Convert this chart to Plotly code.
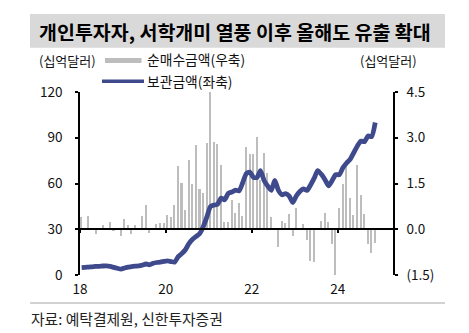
import plotly.graph_objects as go

# ---------------- data ----------------
months = [f"{2018 + i // 12}-{i % 12 + 1:02d}-15" for i in range(83)]

# 순매수금액 (right axis, 십억달러)
net_buy = [
    0.40, 0.02, 0.44, -0.02, -0.14, 0.03, 0.15, 0.02, 0.24, -0.03, 0.05, -0.23,
    0.32, 0.13, -0.14, 0.15, 0.03, 0.44, 0.81, -0.12, 0.05, 0.16, 0.20, 0.22,
    0.47, 0.41, 0.80, 2.09, 1.51, 0.63, 2.27, 1.50, 2.77, 1.32, 1.18, 2.83,
    4.53, 2.86, 2.79, 2.10, 0.25, 0.25, 0.97, 0.53, 0.86, 0.44, 2.70, 2.48,
    2.48, 3.02, 1.60, 2.50, 1.84, 0.39, 0.03, -0.58, 0.26, 0.20, 0.50, -0.22,
    0.69, -0.02, 0.17, -0.34, -1.05, -1.07, 0.02, 0.28, 0.53, 0.24, -0.49, -1.56,
    0.71, 1.48, 2.11, 1.02, 0.47, 2.11, 1.11, 0.49, -0.49, -0.77, -0.46,
]

# 보관금액 (left axis, 십억달러)
custody = [
    4.8, 5.0, 5.2, 5.4, 5.6, 5.7, 5.9, 6.0, 5.6, 5.0, 4.4, 3.9,
    4.6, 5.1, 5.5, 5.8, 6.0, 6.5, 7.2, 6.7, 7.7, 8.2, 8.4, 8.9,
    9.3, 8.8, 8.4, 12.0, 14.0, 16.6, 20.5, 23.4, 25.3, 27.2, 31.9, 38.2,
    45.0, 45.9, 46.4, 50.4, 49.3, 53.6, 54.4, 55.6, 55.2, 60.5, 66.5, 67.5,
    64.0, 64.0, 68.5, 62.0, 58.4, 55.5, 62.0, 55.5, 52.6, 53.4, 51.7, 47.5,
    52.0, 55.0, 56.5, 55.5, 59.0, 63.5, 68.5, 66.0, 62.5, 58.5, 62.0, 65.8,
    65.8, 70.5, 73.3, 75.8, 80.0, 84.5, 87.8, 87.4, 91.2, 90.7, 100.0,
]

x_tickvals = ["2018-01-01", "2020-01-01", "2022-01-01", "2024-01-01"]
x_ticktext = ["18", "20", "22", "24"]
left_ticks = [0, 30, 60, 90, 120]
right_ticks = [-1.5, 0.0, 1.5, 3.0, 4.5]
right_ticktext = ["(1.5)", "0.0", "1.5", "3.0", "4.5"]

title_text = "개인투자자, 서학개미 열풍 이후 올해도 유출 확대"
source_text = "자료: 예탁결제원, 신한투자증권"
unit_text = "(십억달러)"
bar_name = "순매수금액(우축)"
line_name = "보관금액(좌축)"

# ---------------- styling ----------------
W, H = 469, 333
L, R, T, B = 80, 393, 92, 275
FONT = "Noto Sans CJK KR"
BAR_COLOR = "#bdbdbd"
LINE_COLOR = "#3f4a8c"
x_range = ["2018-01-01", "2025-04-15"]


def px(x):
    return (x - L) / (R - L)


def py(y):
    return (B - y) / (B - T)


fig = go.Figure()
fig.add_trace(go.Bar(
    x=months, y=net_buy, xaxis="x", yaxis="y",
    marker=dict(color=BAR_COLOR, line=dict(width=0)),
    width=13 * 86400000, name=bar_name, showlegend=False,
))
fig.add_trace(go.Scatter(
    x=months, y=custody, xaxis="x2", yaxis="y2", mode="lines",
    line=dict(color=LINE_COLOR, width=4.8, shape="spline", smoothing=0.6),
    name=line_name, showlegend=False,
))

axis_font = dict(family=FONT, size=13.5, color="#111")

fig.update_layout(
    width=W, height=H,
    margin=dict(l=L, r=W - R, t=T, b=H - B, pad=0),
    paper_bgcolor="white", plot_bgcolor="white",
    font=dict(family=FONT, color="#111"),
    bargap=0,
    xaxis=dict(
        type="date", range=x_range, anchor="y",
        tickvals=x_tickvals, ticktext=x_ticktext,
        showline=False, ticks="", showgrid=False, zeroline=False,
        tickfont=axis_font, ticklabelstandoff=4,
    ),
    xaxis2=dict(
        type="date", range=x_range, overlaying="x", anchor="free",
        position=0.25, side="bottom",
        tickvals=x_tickvals, showticklabels=False,
        showline=True, linecolor="black", linewidth=1.5,
        ticks="outside", ticklen=3, tickwidth=1.5, tickcolor="black",
        showgrid=False, zeroline=False,
    ),
    yaxis=dict(
        range=[-1.5, 4.5], side="right", anchor="x",
        tickvals=right_ticks, ticktext=right_ticktext,
        showline=True, linecolor="black", linewidth=1.5,
        ticks="outside", ticklen=3, tickwidth=1.5, tickcolor="black",
        showgrid=False, zeroline=False, tickfont=axis_font,
        ticklabelstandoff=6,
    ),
    yaxis2=dict(
        range=[0, 120], side="left", overlaying="y", anchor="x2",
        tickvals=left_ticks,
        showline=True, linecolor="black", linewidth=1.5,
        ticks="outside", ticklen=3, tickwidth=1.5, tickcolor="black",
        showgrid=False, zeroline=False, tickfont=axis_font,
        ticklabelstandoff=10,
    ),
    showlegend=False,
)

shapes = [
    # title band
    dict(type="rect", xref="paper", yref="paper",
         x0=px(30), x1=px(445), y0=py(47.7), y1=py(14),
         fillcolor="#d9d9d9", line=dict(width=0), layer="below"),
    # bottom rule
    dict(type="line", xref="paper", yref="paper",
         x0=px(30), x1=px(445), y0=py(303), y1=py(303),
         line=dict(color="#a6a6a6", width=1)),
    # legend swatches
    dict(type="rect", xref="paper", yref="paper",
         x0=px(105), x1=px(141.5), y0=py(63), y1=py(58),
         fillcolor=BAR_COLOR, line=dict(width=0)),
    dict(type="line", xref="paper", yref="paper",
         x0=px(102), x1=px(144), y0=py(81.3), y1=py(81.3),
         line=dict(color=LINE_COLOR, width=3.5)),
]

annotations = [
    dict(text=f"<b>{title_text}</b>", x=px(37), y=py(31), xanchor="left", yanchor="middle",
         font=dict(family=FONT, size=19.5, color="black")),
    dict(text=source_text, x=px(29), y=py(318), xanchor="left", yanchor="middle",
         font=dict(family=FONT, size=14.8, color="#222")),
    dict(text=unit_text, x=px(37), y=py(60), xanchor="left", yanchor="middle",
         font=dict(family=FONT, size=13, color="#111")),
    dict(text=unit_text, x=px(358), y=py(60), xanchor="left", yanchor="middle",
         font=dict(family=FONT, size=13, color="#111")),
    dict(text=bar_name, x=px(145), y=py(59.5), xanchor="left", yanchor="middle",
         font=dict(family=FONT, size=13.8, color="#111")),
    dict(text=line_name, x=px(145), y=py(80.5), xanchor="left", yanchor="middle",
         font=dict(family=FONT, size=13.8, color="#111")),
]
for a in annotations:
    a.update(xref="paper", yref="paper", showarrow=False)

fig.update_layout(shapes=shapes, annotations=annotations)

fig.write_html("out.html")
